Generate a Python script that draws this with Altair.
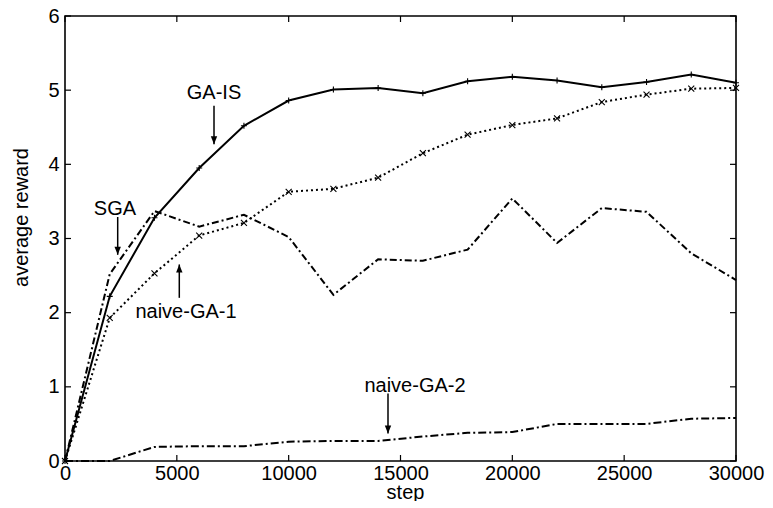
import altair as alt
import pandas as pd

W, H = 671, 445
FONT = "Liberation Sans"
FS = 20

# ---- data ----
steps = [0, 2000, 4000, 6000, 8000, 10000, 12000, 14000, 16000, 18000,
         20000, 22000, 24000, 26000, 28000, 30000]
ga_is = [0, 2.22, 3.28, 3.95, 4.52, 4.86, 5.01, 5.03, 4.96, 5.12,
         5.18, 5.13, 5.04, 5.11, 5.21, 5.10]
naive_ga1 = [0, 1.93, 2.53, 3.04, 3.21, 3.63, 3.67, 3.82, 4.15, 4.40,
             4.53, 4.62, 4.84, 4.94, 5.02, 5.03]
sga = [0, 2.52, 3.37, 3.16, 3.32, 3.02, 2.24, 2.72, 2.70, 2.85,
       3.54, 2.94, 3.41, 3.36, 2.80, 2.44]
naive_ga2 = [0, 0, 0.19, 0.20, 0.20, 0.26, 0.27, 0.27, 0.33, 0.38,
             0.39, 0.50, 0.50, 0.50, 0.57, 0.58]

x_ticks = [0, 5000, 10000, 15000, 20000, 25000, 30000]
y_ticks = [0, 1, 2, 3, 4, 5, 6]

# annotations: label, text x, text baseline y, arrow x, arrow start y, arrow tip y
ann_labels = ["GA-IS", "SGA", "naive-GA-1", "naive-GA-2"]
ann_tx = [6662, 2235, 5410, 15648]
ann_ty = [4.88, 3.32, 1.93, 0.93]
ann_ax = [6662, 2356, 5110, 14441]
ann_ay0 = [4.79, 3.29, 2.20, 0.91]
ann_ay1 = [4.27, 2.78, 2.65, 0.37]

df = pd.DataFrame({"step": steps, "ga_is": ga_is, "naive_ga1": naive_ga1,
                   "sga": sga, "naive_ga2": naive_ga2})
ann = pd.DataFrame({"label": ann_labels, "tx": ann_tx, "ty": ann_ty,
                    "ax": ann_ax, "ay0": ann_ay0, "ay1": ann_ay1})
ann["dir"] = ["down" if a0 > a1 else "up" for a0, a1 in zip(ann_ay0, ann_ay1)]
xt = pd.DataFrame({"t": x_ticks})
yt = pd.DataFrame({"t": y_ticks})

xs = alt.Scale(domain=[0, 30000], nice=False)
ys = alt.Scale(domain=[0, 6], nice=False)

x_axis = alt.Axis(values=x_ticks, format="d", grid=False, ticks=False, domain=False,
                  labelFlush=False, labelOverlap=False,
                  labelFontSize=FS, labelPadding=2, labelFont=FONT, labelColor="black",
                  titleFont=FONT, titleFontSize=FS, titleFontWeight="normal",
                  titleColor="black", titleX=340, titleY=37, titleBaseline="alphabetic")
y_axis = alt.Axis(values=y_ticks, format="d", grid=False, ticks=False, domain=False,
                  labelFlush=False, labelOverlap=False,
                  labelFontSize=FS, labelPadding=6, labelFont=FONT, labelColor="black",
                  titleFont=FONT, titleFontSize=FS, titleFontWeight="normal",
                  titleColor="black", titleAngle=270, titleX=-38, titleY=201,
                  titleBaseline="alphabetic", titleAlign="center")


def X(field):
    return alt.X(field, scale=xs, axis=x_axis, title="step")


def Y(field):
    return alt.Y(field, scale=ys, axis=y_axis, title="average reward")


base = alt.Chart(df)


def series_line(field, dash, width):
    kw = {}
    if dash:
        kw["strokeDash"] = dash
    return base.mark_line(color="black", strokeWidth=width, **kw).encode(
        x=X("step:Q"), y=Y(f"{field}:Q"))


plus_path = "M-1,0L1,0M0,-1L0,1"
cross_path = "M-1,-1L1,1M-1,1L1,-1"


def markers(field, shape):
    return base.mark_point(shape=shape, filled=False, color="black", size=36,
                           strokeWidth=1.1, opacity=1).encode(
        x=X("step:Q"), y=Y(f"{field}:Q"))


l_ga = series_line("ga_is", None, 2)
l_n1 = series_line("naive_ga1", [2, 3], 2)
l_sga = series_line("sga", [7, 3, 2, 3], 2)
l_n2 = series_line("naive_ga2", [8, 3, 2, 3], 2)
m_ga = markers("ga_is", plus_path)
m_n1 = markers("naive_ga1", cross_path)

# inward ticks on all four sides
tick_kw = dict(color="black", strokeWidth=1.2)
t_bottom = alt.Chart(xt).mark_rule(**tick_kw).encode(
    x=X("t:Q"), y=alt.value(H), y2=alt.value(H - 6))
t_top = alt.Chart(xt).mark_rule(**tick_kw).encode(
    x=X("t:Q"), y=alt.value(0), y2=alt.value(6))
t_left = alt.Chart(yt).mark_rule(**tick_kw).encode(
    y=Y("t:Q"), x=alt.value(0), x2=alt.value(6))
t_right = alt.Chart(yt).mark_rule(**tick_kw).encode(
    y=Y("t:Q"), x=alt.value(W), x2=alt.value(W - 6))

# annotations
a_text = alt.Chart(ann).mark_text(font=FONT, fontSize=FS, color="black",
                                  align="center", baseline="alphabetic").encode(
    x=X("tx:Q"), y=Y("ty:Q"), text="label:N")
a_shaft = alt.Chart(ann).mark_rule(color="black", strokeWidth=1.5).encode(
    x=X("ax:Q"), y=Y("ay0:Q"), y2="ay1:Q")
head_down = "M0,0L-0.4,-1L0.4,-1Z"
head_up = "M0,0L-0.4,1L0.4,1Z"
a_head_d = alt.Chart(ann).transform_filter("datum.dir == 'down'").mark_point(
    shape=head_down, filled=True, color="black", size=256, opacity=1,
    strokeWidth=0).encode(x=X("ax:Q"), y=Y("ay1:Q"))
a_head_u = alt.Chart(ann).transform_filter("datum.dir == 'up'").mark_point(
    shape=head_up, filled=True, color="black", size=256, opacity=1,
    strokeWidth=0).encode(x=X("ax:Q"), y=Y("ay1:Q"))

chart = alt.layer(
    l_ga, l_n1, l_sga, l_n2, m_ga, m_n1,
    t_bottom, t_top, t_left, t_right,
    a_shaft, a_head_d, a_head_u, a_text,
).properties(
    width=W, height=H,
    autosize=alt.AutoSizeParams(type="none"),
    padding={"left": 57, "top": 8, "right": 29, "bottom": 40},
    background="white",
).configure_view(
    stroke="black", strokeWidth=1.6
)

chart.save("out.html", embed_options={"renderer": "svg", "actions": False})
